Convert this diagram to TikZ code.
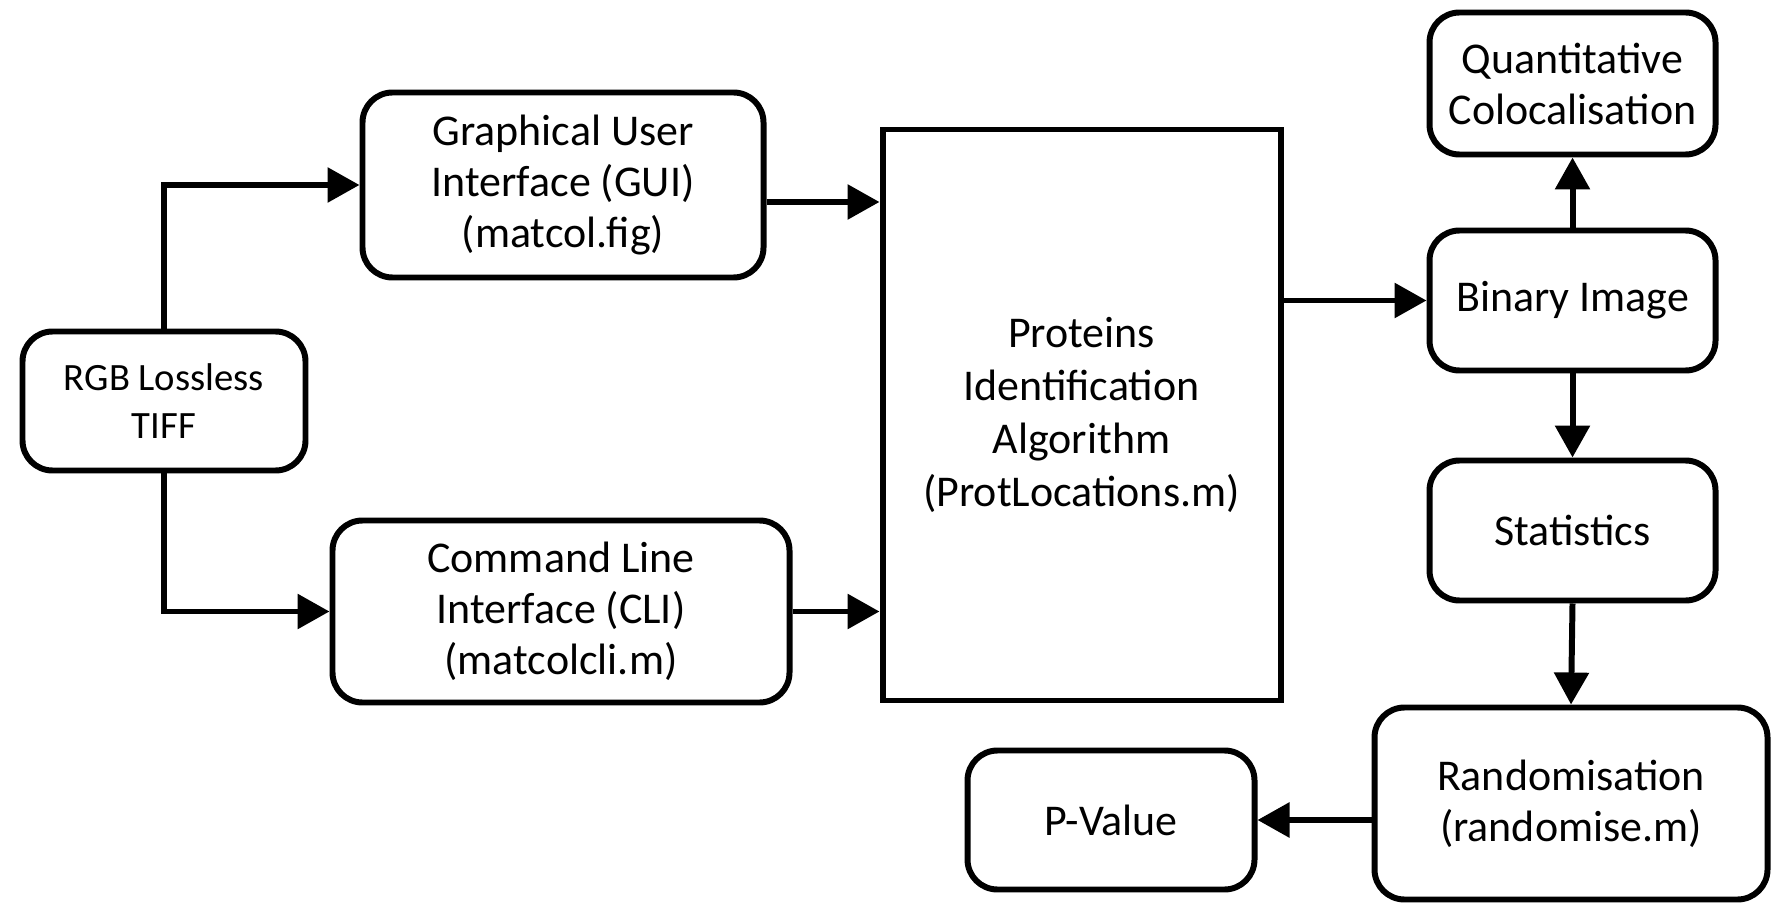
\documentclass[tikz,border=0pt]{standalone}
\usepackage{fontspec}
\setmainfont{Carlito}
\usetikzlibrary{arrows.meta}

\begin{document}
\begin{tikzpicture}[
    box/.style={draw, line width=1.7pt, rounded corners=3mm, align=center,
      inner sep=0pt, font=\fontsize{12.5}{14.5}\selectfont},
    flow/.style={line width=1.7pt, -{Triangle[length=3.2mm,width=3.4mm]}}]
  \useasboundingbox (0,0) rectangle (17.73,9.06);
  \draw
    (1.64,5.05) node[box, minimum width=2.83cm, minimum height=1.39cm,
      font=\fontsize{11}{13.5}\selectfont] (rgb){RGB Lossless\\TIFF}
    (5.63,7.21) node[box, minimum width=4.01cm, minimum height=1.85cm]
      (gui){Graphical User\\Interface (GUI)\\(matcol.fig)}
    (5.61,2.945) node[box, minimum width=4.57cm, minimum height=1.82cm]
      (cli){Command Line\\Interface (CLI)\\(matcolcli.m)}
    (10.815,4.91) node[box, rounded corners=0pt, minimum width=3.98cm, minimum height=5.71cm,
      font=\fontsize{12.5}{15}\selectfont]
      (prot){Proteins\\Identification\\Algorithm\\(ProtLocations.m)}
    (15.725,8.225) node[box, minimum width=2.86cm, minimum height=1.42cm]
      (quant){Quantitative\\Colocalisation}
    (15.725,6.055) node[box, minimum width=2.86cm, minimum height=1.4cm] (bin){Binary Image}
    (15.725,3.755) node[box, minimum width=2.86cm, minimum height=1.4cm] (stat){Statistics}
    (15.71,1.025) node[box, minimum width=3.93cm, minimum height=1.92cm]
      (rand){Randomisation\\(randomise.m)}
    (11.11,0.86) node[box, minimum width=2.87cm, minimum height=1.39cm] (pval){P-Value};
  \begin{scope}[flow]
    \draw (rgb.north) |- (gui.west);
    \draw (rgb.south) |- (cli.west);
    \draw ([yshift=-1.7mm]gui.east) -- ([yshift=-1.7mm]gui.east -| prot.west);
    \draw (cli.east) -- (cli.east -| prot.west);
    \draw (prot.east |- bin.west) -- (bin.west);
    \draw (bin.north) -- (quant.south);
    \draw (bin.south) -- (stat.north);
    \draw (stat.south) -- (rand.north);
    \draw (rand.west |- pval.east) -- (pval.east);
  \end{scope}
\end{tikzpicture}
\end{document}
